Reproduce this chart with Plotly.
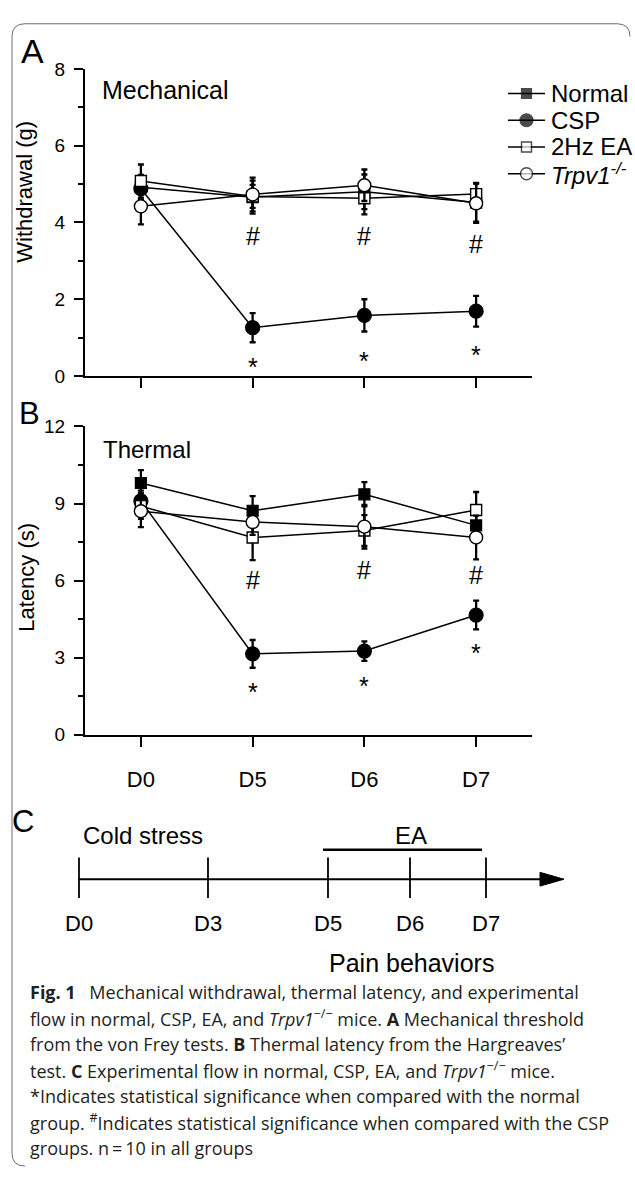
import plotly.graph_objects as go

W, H = 635, 1178

# ---------------- data ----------------
days = ["D0", "D5", "D6", "D7"]
groups = ["Normal", "CSP", "2Hz EA", "Trpv1"]

mech_normal = [4.92, 4.66, 4.80, 4.52]
mech_normal_err = [0.32, 0.43, 0.45, 0.50]
mech_csp = [4.88, 1.26, 1.58, 1.69]
mech_csp_err = [0.30, 0.38, 0.42, 0.40]
mech_ea = [5.08, 4.68, 4.63, 4.74]
mech_ea_err = [0.43, 0.30, 0.42, 0.29]
mech_trpv1 = [4.42, 4.73, 4.97, 4.50]
mech_trpv1_err = [0.47, 0.44, 0.41, 0.51]

therm_normal = [9.80, 8.72, 9.36, 8.15]
therm_normal_err = [0.50, 0.57, 0.47, 0.60]
therm_csp = [9.10, 3.15, 3.26, 4.66]
therm_csp_err = [0.40, 0.54, 0.38, 0.56]
therm_ea = [8.90, 7.68, 7.95, 8.75]
therm_ea_err = [0.50, 0.88, 0.60, 0.70]
therm_trpv1 = [8.70, 8.28, 8.10, 7.68]
therm_trpv1_err = [0.62, 0.50, 0.85, 0.85]

sig_days = ["D5", "D6", "D7"]
mech_hash_y = [3.65, 3.65, 3.44]
mech_star_y = [0.38, 0.54, 0.71]
therm_hash_y = [6.04, 6.42, 6.23]
therm_star_y = [1.91, 2.15, 3.43]

timeline_labels = ["D0", "D3", "D5", "D6", "D7"]

caption_lines = [
    "<b>Fig. 1</b>\u2002 Mechanical withdrawal, thermal latency, and experimental",
    "flow in normal, CSP, EA, and <i>Trpv1</i><sup>\u2212/\u2212</sup> mice. <b>A</b> Mechanical threshold",
    "from the von Frey tests. <b>B</b> Thermal latency from the Hargreaves\u2019",
    "test. <b>C</b> Experimental flow in normal, CSP, EA, and <i>Trpv1</i><sup>\u2212/\u2212</sup> mice.",
    "*Indicates statistical significance when compared with the normal",
    "group. <sup>#</sup>Indicates statistical significance when compared with the CSP",
    "groups. n\u2009=\u200910 in all groups",
]

# ---------------- styles / layout constants ----------------
FONT = "Liberation Sans, Arial, Helvetica, sans-serif"
CAP_FONT = "Open Sans, Noto Sans, sans-serif"
BLACK = "#000000"

styles = {
    "Normal": dict(symbol="square", size=11, color=BLACK, lw=1.2),
    "CSP": dict(symbol="circle", size=14, color=BLACK, lw=1.2),
    "2Hz EA": dict(symbol="square", size=11, color="white", lw=1.4),
    "Trpv1": dict(symbol="circle", size=13, color="white", lw=1.4),
}
legend_text = {
    "Normal": "Normal",
    "CSP": "CSP",
    "2Hz EA": "2Hz EA",
    "Trpv1": "<i>Trpv1<sup>-/-</sup></i>",
}


def px(x):
    return x / W


def py(y):
    return 1 - y / H


fig = go.Figure()

mech = {"Normal": (mech_normal, mech_normal_err), "CSP": (mech_csp, mech_csp_err),
        "2Hz EA": (mech_ea, mech_ea_err), "Trpv1": (mech_trpv1, mech_trpv1_err)}
therm = {"Normal": (therm_normal, therm_normal_err), "CSP": (therm_csp, therm_csp_err),
         "2Hz EA": (therm_ea, therm_ea_err), "Trpv1": (therm_trpv1, therm_trpv1_err)}

for data, xa, ya in [(mech, "x", "y"), (therm, "x2", "y2")]:
    for g in groups:
        vals, errs = data[g]
        st = styles[g]
        fig.add_trace(go.Scatter(
            x=days, y=vals, xaxis=xa, yaxis=ya, mode="lines+markers",
            line=dict(color=BLACK, width=1.5),
            marker=dict(symbol=st["symbol"], size=st["size"], color=st["color"],
                        line=dict(color=BLACK, width=st["lw"])),
            error_y=dict(type="data", array=errs, visible=True, color=BLACK,
                         thickness=2.3, width=3),
            showlegend=False, name=g, hoverinfo="skip"))

# manual legend
for i, g in enumerate(groups):
    st = styles[g]
    fig.add_trace(go.Scatter(
        x=[0, 0.5, 1], y=[i, i, i], xaxis="x3", yaxis="y3", mode="lines+markers",
        line=dict(color=BLACK, width=1.5),
        marker=dict(symbol=st["symbol"], size=[0, st["size"] - 1, 0], color=st["color"],
                    line=dict(color=BLACK, width=st["lw"])),
        showlegend=False, hoverinfo="skip"))

axis_common = dict(showline=True, linewidth=2, linecolor=BLACK, ticks="outside",
                   tickwidth=2, tickcolor=BLACK, showgrid=False, zeroline=False,
                   tickfont=dict(family=FONT, size=19, color=BLACK))

x_dom = [px(85), px(532)]
fig.update_layout(
    width=W, height=H, margin=dict(l=0, r=0, t=0, b=0),
    paper_bgcolor="white", plot_bgcolor="rgba(0,0,0,0)",
    font=dict(family=FONT, color=BLACK),
    xaxis=dict(axis_common, domain=x_dom, anchor="y", type="category",
               range=[-0.5, 3.5], ticklen=10, showticklabels=False),
    yaxis=dict(axis_common, domain=[py(372.7), py(60)], anchor="x", range=[0, 8],
               dtick=2, ticklen=9, ticklabelstandoff=5,
               minor=dict(ticks="outside", ticklen=5, tickwidth=2, tickcolor=BLACK, dtick=1)),
    xaxis2=dict(axis_common, domain=x_dom, anchor="y2", type="category",
                range=[-0.5, 3.5], ticklen=10, ticklabelstandoff=14,
                tickfont=dict(family=FONT, size=22, color=BLACK)),
    yaxis2=dict(axis_common, domain=[py(738), py(424)], anchor="x2", range=[0, 12],
                dtick=3, ticklen=9, ticklabelstandoff=5,
                minor=dict(ticks="outside", ticklen=5, tickwidth=2, tickcolor=BLACK, dtick=1.5)),
    xaxis3=dict(domain=[px(508), px(545)], anchor="y3", range=[0, 1], visible=False),
    yaxis3=dict(domain=[py(180.3), py(71.4)], anchor="x3", range=[3.5, -0.5], visible=False),
)

ann = []


def text(x, y, s, size, anchor="center", family=FONT, angle=0, color=BLACK):
    ann.append(dict(x=px(x), y=py(y), xref="paper", yref="paper", text=s, showarrow=False,
                    xanchor=anchor, yanchor="middle", textangle=angle,
                    font=dict(family=family, size=size, color=color)))


# panel labels and titles
text(32, 42, "A", 34)
text(29, 411, "B", 31)
text(23, 826, "C", 31)
text(100, 81, "Mechanical", 25, anchor="left")
text(101, 447, "Thermal", 24, anchor="left")
text(25, 185, "Withdrawal (g)", 22, angle=-90)
text(27, 578, "Latency (s)", 22, angle=-90)

# legend text
for i, g in enumerate(groups):
    text(549, 85 + 27.2 * i, legend_text[g], 24, anchor="left")

# significance marks
for xs, ys, xr, yr, sym, shift in [
    (sig_days, mech_hash_y, "x", "y", "#", 0),
    (sig_days, mech_star_y, "x", "y", "*", -6),
    (sig_days, therm_hash_y, "x2", "y2", "#", 0),
    (sig_days, therm_star_y, "x2", "y2", "*", -6),
]:
    for d, v in zip(xs, ys):
        ann.append(dict(x=days.index(d), y=v, xref=xr, yref=yr, text=sym, showarrow=False,
                        yshift=shift, font=dict(family=FONT, size=25, color=BLACK)))

# panel C timeline
TL_X = [79, 208, 328, 410, 486]
TL_Y = 885
shapes = []
shapes.append(dict(type="line", xref="paper", yref="paper", x0=px(79), x1=px(548),
                   y0=py(TL_Y), y1=py(TL_Y), line=dict(color=BLACK, width=2)))
shapes.append(dict(type="path", xref="paper", yref="paper",
                   path=f"M {px(540)},{py(878)} L {px(564)},{py(TL_Y)} L {px(540)},{py(892)} Z",
                   fillcolor=BLACK, line=dict(color=BLACK, width=1)))
for xx in TL_X:
    shapes.append(dict(type="line", xref="paper", yref="paper", x0=px(xx), x1=px(xx),
                       y0=py(863), y1=py(904), line=dict(color=BLACK, width=1.8)))
shapes.append(dict(type="line", xref="paper", yref="paper", x0=px(323), x1=px(482),
                   y0=py(855), y1=py(855), line=dict(color=BLACK, width=2.5)))
for xx, lab in zip(TL_X, timeline_labels):
    text(xx, 930, lab, 22)
text(81, 840, "Cold stress", 24, anchor="left")
text(411, 840, "EA", 24)
text(411, 970, "Pain behaviors", 25)

# caption
for i, line in enumerate(caption_lines):
    text(28, 1000 + 26.5 * i, line, 18, anchor="left", family=CAP_FONT, color="#231f20")

# frame
r = 13
frame = (f"M {px(630)},{py(14 + r)} Q {px(630)},{py(14)} {px(630 - r)},{py(14)} "
         f"L {px(12 + r)},{py(14)} Q {px(12)},{py(14)} {px(12)},{py(14 + r)} "
         f"L {px(12)},{py(1177 - r)} Q {px(12)},{py(1177)} {px(12 + r)},{py(1177)}")
shapes.append(dict(type="path", xref="paper", yref="paper", path=frame,
                   line=dict(color="#6e6e6e", width=1)))

fig.update_layout(annotations=ann, shapes=shapes)

fig.write_html("out.html", config={"displayModeBar": False},
               post_script="document.body.style.margin='0';document.body.style.overflow='hidden';")
